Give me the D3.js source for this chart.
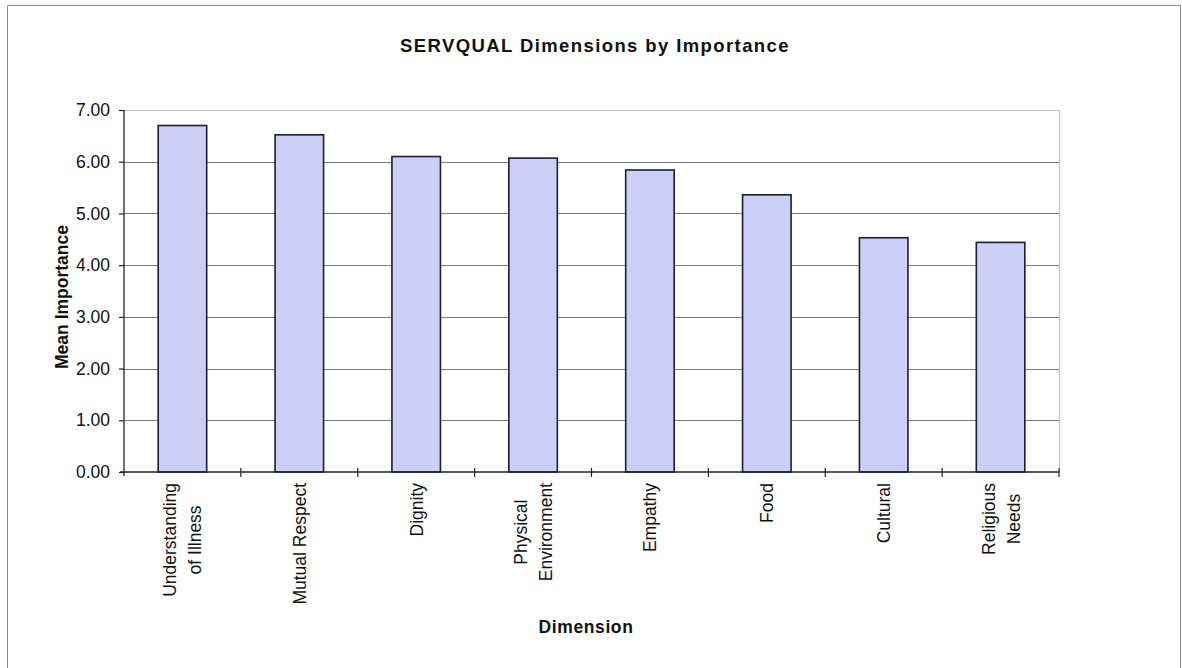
<!DOCTYPE html>
<html>
<head>
<meta charset="utf-8">
<script src="https://cdn.jsdelivr.net/npm/d3@7/dist/d3.min.js"></script>
<style>
  html, body { margin: 0; padding: 0; background: #fff; }
  svg { display: block; }
  text { font-family: "Liberation Sans", Arial, sans-serif; fill: #111; }
</style>
</head>
<body>
<svg id="chart" width="1182" height="668"></svg>
<script>
// ---- data ----
const categories = ["Understanding of Illness", "Mutual Respect", "Dignity", "Physical Environment",
                    "Empathy", "Food", "Cultural", "Religious Needs"];
const categoryLines = [["Understanding", "of Illness"], ["Mutual Respect"], ["Dignity"], ["Physical", "Environment"],
                       ["Empathy"], ["Food"], ["Cultural"], ["Religious", "Needs"]];
const meanImportance = [6.70, 6.52, 6.10, 6.07, 5.84, 5.36, 4.53, 4.44];
const yTicks = [0, 1, 2, 3, 4, 5, 6, 7];
const chartTitle = "SERVQUAL Dimensions by Importance";
const yTitle = "Mean Importance";
const xTitle = "Dimension";

// ---- layout ----
const svg = d3.select("#chart");
const plot = { left: 124, right: 1059, top: 110, bottom: 472 };

// outer frame
svg.append("rect").attr("x", 7.5).attr("y", 5.5).attr("width", 1173).attr("height", 670)
  .attr("fill", "none").attr("stroke", "#8a8a8a").attr("stroke-width", 1);

const x = d3.scaleBand().domain(categories).range([plot.left, plot.right])
  .paddingInner(0.585).paddingOuter(0.2925);
const y = d3.scaleLinear().domain([0, 7]).range([plot.bottom, plot.top]);

// plot area border (top & right)
svg.append("path")
  .attr("d", `M${plot.left},${y(7) + 0.5}H${plot.right + 0.5}V${plot.bottom}`)
  .attr("fill", "none").attr("stroke", "#c4c4c4").attr("stroke-width", 1.2);

// gridlines
svg.append("g").selectAll("line").data(yTicks.filter(d => d > 0 && d < 7)).join("line")
  .attr("x1", plot.left).attr("x2", plot.right)
  .attr("y1", d => Math.round(y(d)) + 0.5).attr("y2", d => Math.round(y(d)) + 0.5)
  .attr("stroke", "#7c7c7c").attr("stroke-width", 1);

// bars
svg.append("g").selectAll("rect").data(categories).join("rect")
  .attr("x", d => x(d))
  .attr("y", (d, i) => y(meanImportance[i]))
  .attr("width", x.bandwidth())
  .attr("height", (d, i) => y(0) - y(meanImportance[i]))
  .attr("fill", "#cbcff5")
  .attr("stroke", "#1c1c3c").attr("stroke-width", 1.6);

// y axis
const yAxis = d3.axisLeft(y).tickValues(yTicks).tickFormat(d3.format(".2f")).tickSize(5).tickPadding(9);
const gy = svg.append("g").attr("transform", `translate(${plot.left},0)`).call(yAxis);
gy.select(".domain").attr("d", `M0,${plot.top}V${plot.bottom + 4}`).attr("stroke", "#222").attr("stroke-width", 1.3);
gy.selectAll(".tick line").attr("stroke", "#222").attr("stroke-width", 1.2);
gy.selectAll(".tick text").attr("font-size", "17.5px").attr("fill", "#222")
  .style("font-family", '"Liberation Sans", Arial, sans-serif');

// x axis line with cross ticks at category boundaries
const step = x.step();
const boundaries = d3.range(1, categories.length + 1).map(k => plot.left + k * step);
svg.append("line").attr("x1", plot.left - 4).attr("x2", plot.right)
  .attr("y1", plot.bottom).attr("y2", plot.bottom).attr("stroke", "#222").attr("stroke-width", 1.3);
svg.append("g").selectAll("line").data(boundaries).join("line")
  .attr("x1", d => d).attr("x2", d => d)
  .attr("y1", plot.bottom - 4).attr("y2", plot.bottom + 5)
  .attr("stroke", "#222").attr("stroke-width", 1.2);

// category labels (rotated)
const labelTop = 483;
const lineGap = 25;
const lab = svg.append("g").selectAll("g").data(categories).join("g")
  .attr("transform", d => `translate(${x(d) + x.bandwidth() / 2},${labelTop}) rotate(-90)`);
lab.each(function(d, i) {
  const g = d3.select(this);
  const lines = categoryLines[i];
  const texts = lines.map((t, j) => g.append("text")
    .attr("font-size", "17.5px").attr("fill", "#222")
    .attr("text-anchor", "middle")
    .attr("y", 6.5 + (j - (lines.length - 1) / 2) * lineGap)
    .text(t));
  const maxLen = d3.max(texts, t => t.node().getComputedTextLength());
  texts.forEach(t => t.attr("x", -maxLen / 2));
});

// titles
svg.append("text").attr("x", 595).attr("y", 52).attr("text-anchor", "middle")
  .attr("font-size", "18.5px").attr("font-weight", "bold").attr("letter-spacing", "1.4px")
  .text(chartTitle);
svg.append("text").attr("transform", `translate(68,297) rotate(-90)`).attr("text-anchor", "middle")
  .attr("font-size", "17.5px").attr("font-weight", "bold")
  .text(yTitle);
svg.append("text").attr("x", 586).attr("y", 633).attr("text-anchor", "middle")
  .attr("font-size", "17.5px").attr("font-weight", "bold").attr("letter-spacing", "0.6px")
  .text(xTitle);
</script>
</body>
</html>
